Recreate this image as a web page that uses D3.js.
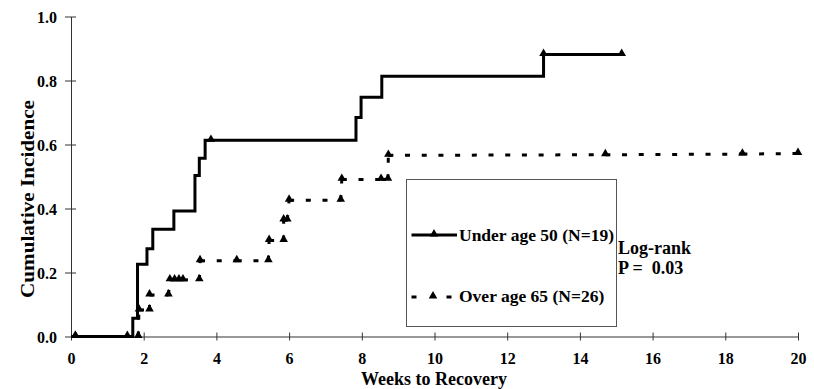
<!DOCTYPE html>
<html>
<head>
<meta charset="utf-8">
<script src="https://cdn.jsdelivr.net/npm/d3@7"></script>
<style>
  html, body { margin: 0; padding: 0; background: #fff; }
  svg { display: block; }
  text { font-family: "Liberation Serif", "Times New Roman", serif; font-weight: bold; fill: #000; }
</style>
</head>
<body>
<svg id="chart" width="814" height="389"></svg>
<script>
// ---- data ----
const xTicks = [0, 2, 4, 6, 8, 10, 12, 14, 16, 18, 20];
const yTicks = [0, 0.2, 0.4, 0.6, 0.8, 1.0];

// Under age 50 (solid step curve, step-after)
const underWeeks  = [0, 1.70, 1.83, 2.09, 2.25, 2.83, 3.41, 3.53, 3.69, 7.84, 7.98, 8.55, 13.0, 15.15];
const underValues = [0, 0.057, 0.226, 0.274, 0.335, 0.392, 0.503, 0.557, 0.613, 0.684, 0.748, 0.813, 0.881, 0.881];
// censor markers on solid curve
const underMarkWeeks  = [0.12, 1.55, 3.85, 13.0, 15.15];
const underMarkValues = [0, 0, 0.613, 0.881, 0.881];

// Over age 65 (dashed, vertices with markers)
const overWeeks  = [0.12, 1.85, 1.87, 2.16, 2.16, 2.68, 2.72, 2.85, 2.97, 3.08, 3.53, 3.55, 4.56, 5.43, 5.45, 5.85, 5.85, 5.95, 6.0, 7.42, 7.45, 8.53, 8.72, 8.73, 14.7, 18.47, 20];
const overValues = [0, 0, 0.083, 0.083, 0.13, 0.13, 0.177, 0.177, 0.177, 0.177, 0.177, 0.237, 0.237, 0.237, 0.30, 0.30, 0.364, 0.364, 0.426, 0.426, 0.491, 0.491, 0.491, 0.566, 0.568, 0.570, 0.572];

const seriesNames = ["Under age 50 (N=19)", "Over age 65 (N=26)"];
const statLines = ["Log-rank", "P =  0.03"];
const xTitle = "Weeks to Recovery";
const yTitle = "Cumulative Incidence";

// ---- layout ----
const svg = d3.select("#chart");
const x = d3.scaleLinear().domain([0, 20]).range([71, 798]);
const y = d3.scaleLinear().domain([0, 1]).range([336.5, 16.5]);
const axisColor = "#333";

// axes
const gx = svg.append("g").attr("transform", `translate(0,${y(0)})`)
  .call(d3.axisBottom(x).tickValues(xTicks).tickFormat(d3.format("d")).tickSize(0).tickPadding(0));
gx.select(".domain").attr("stroke", axisColor).attr("stroke-width", 1);
gx.selectAll(".tick line").attr("y1", -4).attr("y2", 4).attr("stroke", axisColor);
gx.selectAll(".tick text").attr("y", 27.5).attr("dy", 0).attr("font-size", 16)
  .attr("font-family", "Liberation Serif").attr("font-weight", "bold");

const gy = svg.append("g").attr("transform", `translate(${x(0)},0)`)
  .call(d3.axisLeft(y).tickValues(yTicks).tickFormat(d3.format(".1f")).tickSize(0).tickPadding(0));
gy.select(".domain").attr("stroke", axisColor).attr("stroke-width", 1);
gy.selectAll(".tick line").attr("x1", -6).attr("x2", 5).attr("stroke", axisColor);
gy.selectAll(".tick text").attr("x", -14).attr("dy", "0.35em").attr("font-size", 16)
  .attr("font-family", "Liberation Serif").attr("font-weight", "bold");

// titles
svg.append("text").attr("x", 434).attr("y", 385).attr("text-anchor", "middle")
  .attr("font-size", 18).text(xTitle);
svg.append("text").attr("transform", `translate(34,199) rotate(-90)`).attr("text-anchor", "middle")
  .attr("font-size", 19).attr("textLength", 198).attr("lengthAdjust", "spacingAndGlyphs").text(yTitle);

// solid series
const underData = underWeeks.map((w, i) => [w, underValues[i]]);
svg.append("path").datum(underData)
  .attr("d", d3.line().x(d => x(d[0])).y(d => y(d[1])).curve(d3.curveStepAfter))
  .attr("fill", "none").attr("stroke", "#000").attr("stroke-width", 3);

const tri = d3.symbol().type(d3.symbolTriangle).size(32);
svg.append("g").selectAll("path").data(underMarkWeeks.map((w, i) => [w, underMarkValues[i]]))
  .join("path").attr("d", tri).attr("transform", d => `translate(${x(d[0])},${y(d[1]) - 1})`).attr("fill", "#000");

// dashed series: each segment restarts its dash pattern
const overData = overWeeks.map((w, i) => [w, overValues[i]]);
const segs = d3.pairs(overData);
svg.append("g").selectAll("line").data(segs).join("line")
  .attr("x1", d => x(d[0][0])).attr("y1", d => y(d[0][1]))
  .attr("x2", d => x(d[1][0])).attr("y2", d => y(d[1][1]))
  .attr("stroke", "#000").attr("stroke-width", 3).attr("stroke-dasharray", "5,11.7");
svg.append("g").selectAll("path").data(overData).join("path")
  .attr("d", tri).attr("transform", d => `translate(${x(d[0])},${y(d[1]) - 1})`).attr("fill", "#000");

// legend box
const lg = svg.append("g");
lg.append("rect").attr("x", 406.5).attr("y", 179.5).attr("width", 210).attr("height", 147)
  .attr("fill", "#fff").attr("stroke", "#555").attr("stroke-width", 1);
// entry 1
lg.append("line").attr("x1", 411.5).attr("x2", 457).attr("y1", 235).attr("y2", 235)
  .attr("stroke", "#000").attr("stroke-width", 3);
lg.append("path").attr("d", tri).attr("transform", "translate(434,234)").attr("fill", "#000");
lg.append("text").attr("x", 459).attr("y", 240.5).attr("font-size", 17.5).text(seriesNames[0]);
// entry 2
lg.append("line").attr("x1", 411.5).attr("x2", 451.5).attr("y1", 297).attr("y2", 297)
  .attr("stroke", "#000").attr("stroke-width", 3).attr("stroke-dasharray", "5,30,5");
lg.append("path").attr("d", tri).attr("transform", "translate(433,296)").attr("fill", "#000");
lg.append("text").attr("x", 459).attr("y", 302).attr("font-size", 17.5).text(seriesNames[1]);

// stat text
svg.append("text").attr("x", 618).attr("y", 254).attr("font-size", 18).text(statLines[0]);
svg.append("text").attr("x", 618).attr("y", 274).attr("font-size", 18)
  .style("white-space", "pre").text(statLines[1]);
</script>
</body>
</html>
